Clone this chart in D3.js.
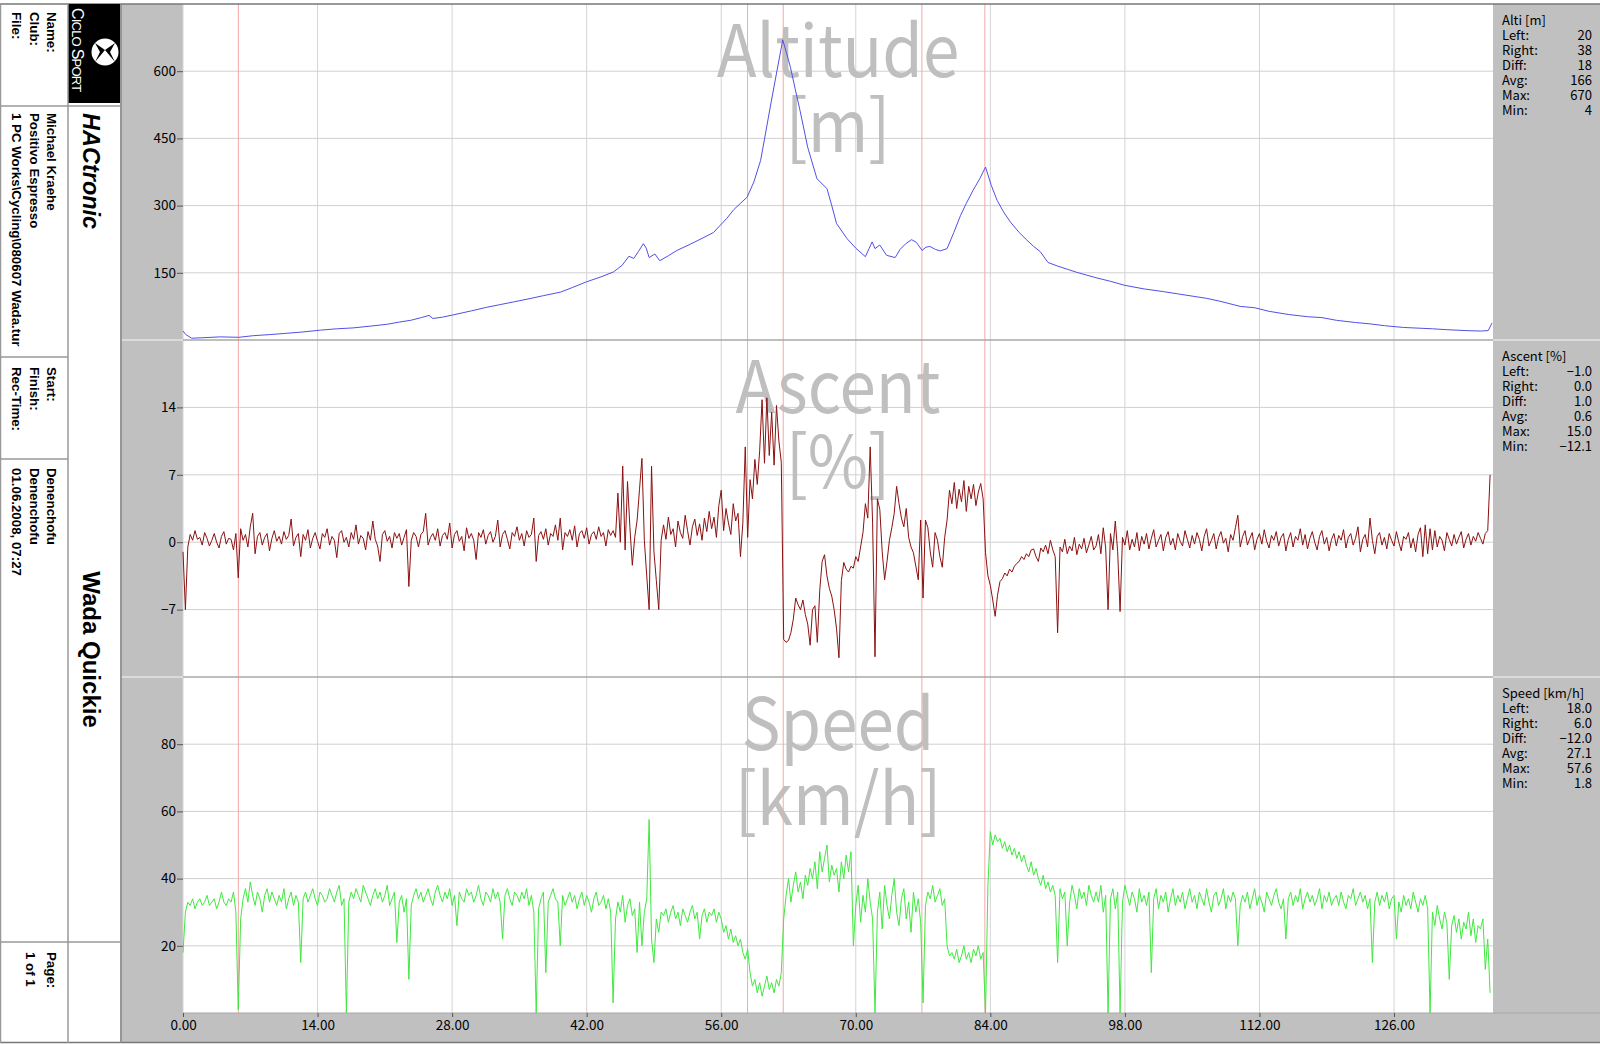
<!DOCTYPE html>
<html>
<head>
<meta charset="utf-8">
<title>Wada Quickie</title>
<script src="https://cdn.jsdelivr.net/npm/d3@7"></script>
<style>
  body{margin:0;background:#fff;}
  svg{display:block;}
  .side{font-family:"Liberation Sans",Arial,sans-serif;font-weight:bold;font-size:13px;fill:#000;}
  .jp{font-family:"Noto Sans CJK JP",sans-serif;}
  .axis text{font-family:"Noto Sans CJK JP",sans-serif;font-size:13.5px;fill:#000;}
  .axis line{stroke:#555;}
  .axis path{display:none;}
</style>
</head>
<body>
<div id="chart"></div>
<script>
// altitude profile [km], [m]
var altKm = [0,0.3,0.9,2,3.9,5.8,7.3,9,10.8,12.5,14.3,16,17.7,19.5,21.2,22.5,23.7,24.8,25.6,26.0,27,28.1,30,31.6,33,34.4,36,37.5,39.3,40.5,42,43.5,44.8,45.7,46.4,46.9,47.4,47.9,48.2,48.5,49.1,49.6,50.5,51.4,52.8,54.2,55.2,55.9,56.6,57.3,58.0,58.7,59.4,60.1,60.6,61.1,61.8,62.4,62.8,63.2,63.7,64.2,65,65.96,67.0,67.5,68.0,69.1,70,71.0,71.4,71.7,72.0,72.5,73.2,74.1,74.6,75.2,75.8,76.3,76.9,77.3,77.7,78.3,78.8,79.5,80.2,80.9,81.5,82.2,82.9,83.5,84.1,84.7,85.4,86.1,87,87.8,88.5,89.2,90,91,92,93,94,95,96.5,98,100,102,103.5,105,106.5,108,110,111.5,113,115,117,118.5,120,122,123.5,125,127,129,130,131.5,133.5,135,135.8,136.2];
var altM = [20,12,4,5,7,6,9.6,12,15,18,22,25,27,31,35,40,44,50,55,48,51,56,65,73,79,85,92,99,107,117,130,141,152,167,187,182,198,215,205,184,192,177,188,200,214,229,240,256,272,291,305,319,353,401,460,520,601,670,640,609,560,512,430,360,338,300,260,226,205,186,205,219,204,212,189,184,202,215,224,218,200,207,209,202,199,204,240,278,305,334,360,386,345,312,285,263,240,223,209,197,173,165,158,151,145,139,131,122,114,108,103,98,93,86,75,72,64,57,52,50,44,39,36,32,28,26,25,23,21,20,21,38];

// ascent [%] and speed [km/h], one sample every 0.25 km
var sampleKm = 0.25;
var ascentPct = [
  -1,-7,-0.5,0.8,0.2,1.2,0.3,0.5,-0.3,1.0,0.4,-0.4,0.2,0.9,0.0,-0.6,0.6,1.1,-0.2,0.4,
  0.3,-0.8,0.9,-3.7,1.4,0.2,0.8,-0.5,1.6,3.0,-1.2,0.6,1.0,-0.3,0.5,0.9,-0.9,0.4,1.2,0.1,
  0.6,-0.2,1.1,0.3,0.7,2.4,-0.4,0.5,0.9,-1.5,0.8,0.2,1.3,-0.6,0.4,1.0,0.1,-0.7,0.9,0.5,
  1.4,-0.3,0.6,0.2,-1.6,0.9,1.2,0.0,0.5,-0.5,1.0,0.3,1.8,-0.2,0.7,0.4,-0.8,1.1,0.2,2.2,
  0.3,-0.4,-2.0,0.8,1.2,0.1,0.6,-0.6,1.0,0.4,0.9,-0.3,0.5,1.3,-4.6,0.2,1.0,0.6,-0.5,0.8,
  1.1,3.0,-0.3,0.5,0.9,0.2,1.4,-0.4,0.7,1.0,0.3,2.0,-0.6,0.8,1.2,0.1,0.6,-0.9,1.5,0.4,
  0.9,0.2,-1.8,1.0,0.5,1.3,-0.2,0.7,1.1,0.0,0.6,2.3,-0.5,0.8,1.2,0.3,-0.7,1.0,0.6,1.6,
  0.2,0.9,-0.4,1.2,0.5,0.8,2.5,-2.0,0.7,1.1,0.3,1.4,-0.3,0.9,0.6,1.8,0.2,2.5,-0.8,1.0,
  0.6,1.3,0.2,1.7,-0.5,0.9,1.2,0.4,1.5,-0.2,0.8,1.1,0.3,1.6,0.6,1.0,-0.4,1.3,0.7,1.2,
  0.5,5.1,0.0,7.9,-0.8,6.3,1.5,-2.4,0.5,2.3,5.5,8.7,0.2,-3.5,-7.0,7.9,-1.0,-4.0,-7.0,0.2,
  1.8,0.3,2.6,0.8,1.4,-0.5,2.2,1.0,0.4,2.8,1.2,-0.3,1.6,2.4,0.7,1.9,0.2,2.5,1.1,3.2,
  1.4,2.6,0.5,3.8,5.4,1.2,3.5,2.0,0.8,4.0,2.2,3.0,-1.5,2.0,9.9,0.5,6.5,4.5,8.6,6.0,
  9.5,14.8,8.2,15.0,9.0,13.5,8.0,14.2,10.5,8.3,-10.1,-10.4,-10.2,-9.4,-8.0,-5.8,-6.5,-7.0,-6.0,-7.5,
  -8.5,-10.7,-7.0,-6.6,-10.4,-5.0,-2.0,-1.3,-3.5,-4.8,-5.6,-7.0,-9.0,-12.0,-4.0,-2.1,-2.8,-3.1,-2.5,-2.7,
  -1.5,-2.0,-0.5,1.0,4.0,2.5,9.9,2.0,-11.9,4.5,3.4,-1.0,-3.9,-2.0,0.2,1.5,3.0,5.8,4.0,2.5,
  1.6,3.5,0.5,-0.5,-1.1,-2.5,-3.9,2.3,-5.8,2.3,1.5,-1.0,-2.6,1.0,0.2,-1.5,-2.6,0.5,2.3,5.4,
  4.0,6.2,3.5,5.5,4.2,6.4,3.2,5.8,4.5,6.0,3.8,5.2,6.1,4.5,-1.1,-3.5,-4.5,-6.0,-7.7,-5.5,
  -4.1,-3.8,-3.2,-3.5,-2.8,-3.1,-2.5,-2.2,-2.0,-1.5,-1.8,-1.2,-1.5,-0.8,-0.7,-1.5,-2.0,-0.6,-1.0,-0.3,
  -1.2,0.2,-0.8,-1.5,-9.4,-0.5,-1.0,0.3,-1.2,-0.4,-0.9,0.5,-1.3,-0.2,-0.7,0.4,-1.1,-0.3,0.6,-0.8,
  -0.4,0.8,-1.2,1.5,-0.6,-7.0,0.9,-0.8,2.2,-1.0,-7.2,0.5,-0.3,1.2,-0.8,0.3,-0.5,1.0,-0.9,0.6,
  -0.2,0.9,-0.7,0.4,1.3,-0.5,0.2,0.8,-0.9,0.5,1.1,-0.3,0.4,-0.8,0.9,0.1,-0.4,1.2,0.3,-0.6,
  0.7,-0.2,1.0,0.3,-0.9,0.6,1.4,-0.4,0.2,0.9,-0.7,0.5,1.1,-0.1,0.4,-1.0,0.8,0.2,1.5,2.8,
  -0.5,0.6,1.2,-0.3,0.4,1.0,-0.8,0.3,0.9,-0.2,1.3,0.1,-0.6,0.7,0.2,1.1,-0.4,0.5,0.9,-0.9,
  0.3,1.0,-0.5,0.6,0.2,1.4,-0.3,0.8,-0.7,0.4,1.1,0.0,-0.8,0.6,1.2,-0.2,0.5,-0.9,0.3,0.9,
  -0.4,0.7,0.2,1.3,-0.6,0.5,0.9,-0.3,0.4,1.6,-1.0,0.3,0.8,-0.5,2.5,0.2,-1.2,0.6,1.0,-0.3,
  0.5,-0.7,0.9,0.2,-0.4,1.1,0.0,-0.9,0.6,0.3,1.0,-0.6,0.4,-1.0,0.8,1.5,-1.5,1.8,-1.2,1.4,
  -0.8,1.2,-0.5,0.6,0.2,-0.9,1.0,0.3,-0.4,0.8,-0.2,0.5,1.1,-0.6,0.3,0.9,-0.3,0.6,0.1,1.0,
  0.4,-0.2,0.9,1.2,7.0
];
var speedKmh = [
  18,30,33,32,34,31,33,34,32,33,35,32,33,34,31,33,36,33,32,34,
  33,36,30,1,28,34,37,33,39,35,32,36,34,30,35,37,33,36,34,32,
  35,33,37,31,34,36,32,35,33,15,34,36,33,35,37,34,32,36,35,33,
  34,37,35,33,36,38,32,34,0,33,36,34,37,35,33,38,36,34,32,35,
  37,34,36,33,35,38,32,34,36,21,33,35,30,34,10,32,35,37,34,36,
  33,35,37,34,32,36,38,35,33,36,34,37,32,35,26,36,34,33,37,35,
  36,33,35,38,34,32,36,35,33,37,34,36,33,22,35,37,34,32,36,35,
  33,36,34,37,32,35,30,0,31,34,36,12,33,35,37,34,33,20,35,32,
  34,36,33,35,31,34,36,32,35,33,30,34,36,32,33,35,31,34,30,3,
  28,33,30,35,27,32,34,29,31,18,33,20,30,34,57.6,22,15,28,24,30,
  29,31,27,30,32,28,30,26,31,29,27,30,32,28,30,22,29,31,27,30,
  29,31,27,30,28,24,26,22,25,21,23,20,22,18,16,19,12,8,10,6,
  9,5,8,11,7,9,6,10,8,12,28,35,40,33,38,42,36,39,34,41,
  38,43,40,45,37,48,42,46,50,39,44,41,43,36,45,40,47,42,48,20,
  32,38,27,35,30,40,33,28,0,30,36,25,38,32,28,35,40,30,26,34,
  37,28,33,24,36,30,34,27,3,32,36,34,38,33,35,37,32,34,20,17,
  18,16,19,15,17,20,16,18,15,19,17,20,16,18,0,38,54,50,53,51,
  52,49,51,48,50,47,49,46,48,45,47,44,42,45,41,43,40,38,41,37,
  39,36,38,35,15,37,34,36,20,33,38,35,31,37,34,36,32,38,35,33,
  36,33,38,30,35,0,34,37,31,36,0,33,38,35,32,36,34,30,37,33,
  35,32,36,12,34,37,31,35,33,36,30,34,37,32,35,33,36,31,34,37,
  33,35,31,36,34,32,37,33,30,35,36,32,34,37,31,35,33,36,34,20,
  32,35,33,36,31,34,37,32,35,33,30,36,34,32,35,37,33,31,34,22,
  34,36,32,35,33,37,31,34,36,33,35,32,34,37,31,35,33,36,32,34,
  35,32,36,33,31,35,34,37,32,34,36,33,35,31,34,15,33,36,32,35,
  33,36,31,34,35,22,33,30,35,32,34,31,36,33,30,34,32,35,31,0,
  30,26,32,28,25,30,27,10,26,29,24,28,22,27,25,30,23,28,21,26,
  25,28,13,22,6
];

var lapKm = [5.76, 58.74, 62.45, 76.88, 83.43];
var xTicks = [0, 14, 28, 42, 56, 70, 84, 98, 112, 126];
var altTicks = [150, 300, 450, 600];
var ascTicks = [-7, 0, 7, 14];
var spdTicks = [20, 40, 60, 80];

var statLabels = ["Left:", "Right:", "Diff:", "Avg:", "Max:", "Min:"];
var altStats = ["20", "38", "18", "166", "670", "4"];
var ascStats = ["\u22121.0", "0.0", "1.0", "0.6", "15.0", "\u221212.1"];
var spdStats = ["18.0", "6.0", "\u221212.0", "27.1", "57.6", "1.8"];

var W = 1600, H = 1044;
var plotL = 183, plotR = 1493, plotT = 4, plotB = 1013;

var svg = d3.select("#chart").append("svg").attr("width", W).attr("height", H);

// gray frame around the plots, white plot area
svg.append("rect").attr("x", 120).attr("y", 4).attr("width", W - 120).attr("height", 1039).attr("fill", "#c0c0c0");
svg.append("rect").attr("x", plotL).attr("y", plotT).attr("width", plotR - plotL).attr("height", plotB - plotT).attr("fill", "#fff");

var x = d3.scaleLinear().domain([0, 136.3]).range([plotL, plotR]);

// vertical grid
svg.append("g").selectAll("line").data(xTicks).enter().append("line")
  .attr("x1", function(d){return x(d);}).attr("x2", function(d){return x(d);})
  .attr("y1", plotT).attr("y2", plotB)
  .attr("stroke", "#d4d4d4").attr("stroke-width", 1);

var panels = [
  {top: 4, bot: 340, domain: [0, 750], ticks: altTicks, title: ["Altitude", "[m]"], head: "Alti [m]", stats: altStats,
   color: "#5050e8", data: altKm.map(function(k, i){return [k, altM[i]];})},
  {top: 340, bot: 677, domain: [-14, 21], ticks: ascTicks, title: ["Ascent", "[%]"], head: "Ascent [%]", stats: ascStats,
   color: "#8b1010", data: ascentPct.map(function(v, i){return [i * sampleKm, v];})},
  {top: 677, bot: 1013, domain: [0, 100], ticks: spdTicks, title: ["Speed", "[km/h]"], head: "Speed [km/h]", stats: spdStats,
   color: "#40e840", data: speedKmh.map(function(v, i){return [i * sampleKm, v];})}
];

panels.forEach(function(p, pi){
  var y = d3.scaleLinear().domain(p.domain).range([p.bot, p.top]);
  var g = svg.append("g");

  // horizontal grid
  g.selectAll(".hg").data(p.ticks).enter().append("line")
    .attr("x1", plotL).attr("x2", plotR)
    .attr("y1", function(d){return y(d);}).attr("y2", function(d){return y(d);})
    .attr("stroke", "#d0d0d0");

  // big watermark title, a bit condensed like the original font
  g.selectAll(".ttl").data(p.title).enter().append("text")
    .attr("class", "jp")
    .attr("transform", function(d, i){
      return "translate(" + ((plotL + plotR) / 2) + "," + (p.top + 73 + i * 75) + ") scale(0.91,1)";
    })
    .attr("text-anchor", "middle")
    .attr("font-size", 72)
    .attr("fill", "#bfbfbf")
    .text(function(d){return d;});

  // lap markers
  g.selectAll(".lap").data(lapKm).enter().append("line")
    .attr("x1", function(d){return x(d);}).attr("x2", function(d){return x(d);})
    .attr("y1", p.top).attr("y2", p.bot)
    .attr("stroke", "#f4a8a8").attr("stroke-width", 1);

  // data line
  var line = d3.line().x(function(d){return x(d[0]);}).y(function(d){return y(d[1]);});
  g.append("path").datum(p.data)
    .attr("d", line)
    .attr("fill", "none")
    .attr("stroke", p.color)
    .attr("stroke-width", 1)
    .attr("stroke-linejoin", "round");

  // y axis
  svg.append("g").attr("class", "axis")
    .attr("transform", "translate(" + plotL + ",0)")
    .call(d3.axisLeft(y).tickValues(p.ticks).tickSize(6).tickPadding(1));

  // panel separators
  if (pi > 0) {
    svg.append("line").attr("x1", plotL).attr("x2", plotR).attr("y1", p.top).attr("y2", p.top)
      .attr("stroke", "#a8a8a8").attr("stroke-width", 1.5);
    svg.append("line").attr("x1", 121).attr("x2", plotL).attr("y1", p.top).attr("y2", p.top)
      .attr("stroke", "#e4e4e4").attr("stroke-width", 1.5);
    svg.append("line").attr("x1", plotR).attr("x2", W).attr("y1", p.top).attr("y2", p.top)
      .attr("stroke", "#e4e4e4").attr("stroke-width", 1.5);
  }

  // stats box on the right
  var st = svg.append("g").attr("class", "jp").attr("font-size", 13);
  st.append("text").attr("x", 1502).attr("y", p.top + 20.5).text(p.head);
  st.selectAll(".lb").data(statLabels).enter().append("text")
    .attr("x", 1502).attr("y", function(d, i){return p.top + 35.6 + i * 15.1;})
    .text(function(d){return d;});
  st.selectAll(".vl").data(p.stats).enter().append("text")
    .attr("x", 1592).attr("y", function(d, i){return p.top + 35.6 + i * 15.1;})
    .attr("text-anchor", "end")
    .text(function(d){return d;});
});

// bottom line of plots and x axis
svg.append("line").attr("x1", plotL).attr("x2", W).attr("y1", plotB).attr("y2", plotB)
  .attr("stroke", "#a8a8a8").attr("stroke-width", 1);
svg.append("g").attr("class", "axis")
  .attr("transform", "translate(0," + plotB + ")")
  .call(d3.axisBottom(x).tickValues(xTicks).tickFormat(d3.format(".2f")).tickSize(4).tickPadding(3));

// outer frame lines
svg.append("line").attr("x1", 0).attr("x2", W).attr("y1", 4).attr("y2", 4).attr("stroke", "#777").attr("stroke-width", 1.5);
svg.append("line").attr("x1", 0).attr("x2", W).attr("y1", 1042.5).attr("y2", 1042.5).attr("stroke", "#777").attr("stroke-width", 1.5);
svg.append("line").attr("x1", 121).attr("x2", 121).attr("y1", 4).attr("y2", 1043).attr("stroke", "#888").attr("stroke-width", 1.5);

// ---- sidebar ----
var side = svg.append("g");
side.append("rect").attr("x", 68).attr("y", 4).attr("width", 52).attr("height", 99).attr("fill", "#000");
var sideLines = [[0, 106, 120, 106], [0, 357, 68, 357], [0, 459, 68, 459], [0, 942, 120, 942], [68, 4, 68, 1043], [0.5, 4, 0.5, 1043]];
side.selectAll(".sl").data(sideLines).enter().append("line")
  .attr("x1", function(d){return d[0];}).attr("y1", function(d){return d[1];})
  .attr("x2", function(d){return d[2];}).attr("y2", function(d){return d[3];})
  .attr("stroke", "#999").attr("stroke-width", 1.5);

// logo
side.append("circle").attr("cx", 105).attr("cy", 52).attr("r", 13.5).attr("fill", "#fff");
side.append("path").attr("d", "M95,43 L105,50 L95,62 L100,52 Z M115,43 L105,50 L115,62 L110,52 Z").attr("fill", "#000");
var logo = side.append("text").attr("transform", "translate(71.5,8) rotate(90)")
  .attr("font-family", "Liberation Sans, Arial, sans-serif").attr("fill", "#fff").attr("letter-spacing", -0.8);
logo.append("tspan").attr("font-size", 16).text("C");
logo.append("tspan").attr("font-size", 13).text("ICLO ");
logo.append("tspan").attr("font-size", 16).text("S");
logo.append("tspan").attr("font-size", 13).text("PORT");

function vText(px, py, str, size, extra) {
  var t = side.append("text").attr("class", "side")
    .attr("transform", "translate(" + px + "," + py + ") rotate(90)")
    .text(str);
  if (size) t.style("font-size", size + "px");
  if (extra) t.style("font-style", extra);
  return t;
}

var sideRows = [
  {y: 12, lines: ["Name:", "Club:", "File:"]},
  {y: 113, lines: ["Michael Kraehe", "Positivo Espresso", "1 PC Works\\Cycling\\080607 Wada.tur"]},
  {y: 367, lines: ["Start:", "Finish:", "Rec-Time:"]},
  {y: 468, lines: ["Denenchofu", "Denenchofu", "01.06.2008, 07:27"]}
];
var baseX = [47, 29.5, 11.5];
sideRows.forEach(function(r){
  r.lines.forEach(function(s, i){ vText(baseX[i], r.y, s, 13.3); });
});
vText(47, 952, "Page:", 13.3);
vText(26, 952, "1 of 1", 13.3);

vText(83, 113, "HACtronic", 23.5, "italic");
vText(83, 649.5, "Wada Quickie", 24).attr("text-anchor", "middle");
</script>
</body>
</html>
